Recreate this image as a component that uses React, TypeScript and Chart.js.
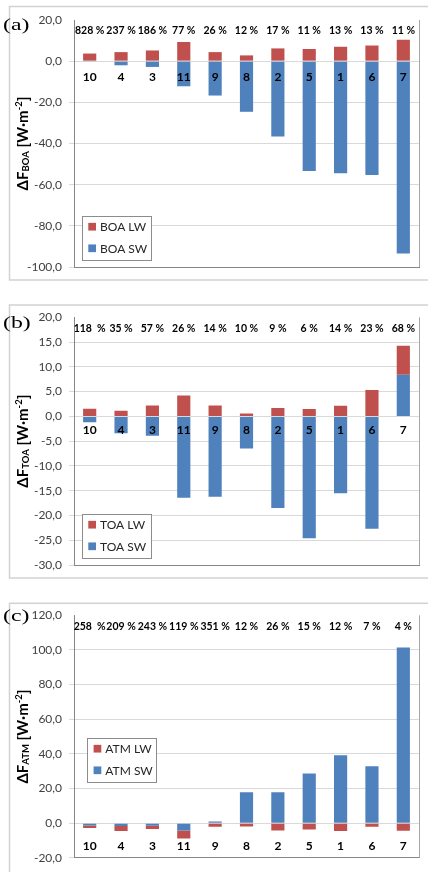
import React, { useEffect, useRef } from "react";
import { Chart, registerables } from "chart.js";
Chart.register(...registerables);

// ---------- data ----------
const categories = ["10", "4", "3", "11", "9", "8", "2", "5", "1", "6", "7"];

const boaLW = [3.7, 4.4, 5.2, 9.3, 4.4, 2.8, 6.2, 5.9, 7.0, 7.6, 10.4];
const boaSW = [-0.3, -2.0, -2.8, -12.2, -16.7, -24.6, -36.6, -53.3, -54.5, -55.3, -93.4];
const boaPct = ["828 %", "237 %", "186 %", "77 %", "26 %", "12 %", "17 %", "11 %", "13 %", "13 %", "11 %"];

const toaLW = [1.55, 1.15, 2.2, 4.2, 2.2, 0.6, 1.7, 1.5, 2.15, 5.3, 5.85];
const toaSW = [-1.2, -3.4, -3.9, -16.4, -16.2, -6.5, -18.5, -24.6, -15.5, -22.7, 8.4];
const toaPct = ["118  %", "35 %", "57 %", "26 %", "14 %", "10 %", "9 %", "6 %", "14 %", "23 %", "68 %"];

const atmLW = [-1.5, -2.8, -1.9, -4.7, -2.1, -1.9, -4.2, -3.6, -4.5, -2.1, -4.4];
const atmSW = [-1.3, -1.7, -1.5, -4.2, 1.0, 17.8, 17.8, 28.6, 39.2, 32.8, 101.4];
const atmPct = ["258  %", "209 %", "243 %", "119 %", "351 %", "12 %", "26 %", "15 %", "12 %", "7 %", "4 %"];

const boaTicks = { min: -100, max: 20, step: 20 };
const toaTicks = { min: -30, max: 20, step: 5 };
const atmTicks = { min: -20, max: 120, step: 20 };

// ---------- styles ----------
const RED = "#C0504D";
const BLUE = "#4F81BD";
const FONT = "Lato, 'Open Sans', sans-serif";

type Panel = {
  key: string;
  letter: string;
  sub: string;
  lw: number[];
  sw: number[];
  pct: string[];
  ticks: { min: number; max: number; step: number };
  top: number;
  height: number;
  padTop: number;
  padBottom: number;
  borderTop: number;
  borderBottom: number;
  catOffset: number;
  legend: { left: number; top?: number; bottom?: number };
  letterY: number;
};

const panels: Panel[] = [
  {
    key: "a", letter: "(a)", sub: "BOA", lw: boaLW, sw: boaSW, pct: boaPct, ticks: boaTicks,
    top: 0, height: 290, padTop: 20, padBottom: 23, borderTop: 6.5, borderBottom: 280,
    catOffset: 16, legend: { left: 8, bottom: 7 }, letterY: 25.5,
  },
  {
    key: "b", letter: "(b)", sub: "TOA", lw: toaLW, sw: toaSW, pct: toaPct, ticks: toaTicks,
    top: 290, height: 300, padTop: 27.3, padBottom: 25, borderTop: 15, borderBottom: 288,
    catOffset: 13.3, legend: { left: 8, bottom: 7 }, letterY: 33.5,
  },
  {
    key: "c", letter: "(c)", sub: "ATM", lw: atmLW, sw: atmSW, pct: atmPct, ticks: atmTicks,
    top: 590, height: 282, padTop: 25.3, padBottom: 9.7, borderTop: 13.3, borderBottom: 400,
    catOffset: 23, legend: { left: 13.3, top: 122.7 }, letterY: 26.5,
  },
];

const fmt = (v: number) => v.toFixed(1).replace(".", ",");

function makeOverlay(p: Panel) {
  return {
    id: "overlay" + p.key,
    beforeDraw(chart: any) {
      const ctx = chart.ctx;
      ctx.save();
      ctx.strokeStyle = "#d2d2d2";
      ctx.lineWidth = 1.5;
      ctx.strokeRect(9.5, p.borderTop, 460, p.borderBottom - p.borderTop);
      ctx.restore();
    },
    afterDraw(chart: any) {
      const ctx = chart.ctx;
      const area = chart.chartArea;
      const xs = chart.scales.x;
      const ys = chart.scales.y;
      ctx.save();
      // right frame line
      ctx.strokeStyle = "#a6a6a6";
      ctx.lineWidth = 1;
      ctx.beginPath();
      ctx.moveTo(Math.round(area.right) + 0.5, area.top);
      ctx.lineTo(Math.round(area.right) + 0.5, area.bottom);
      ctx.stroke();

      // percentage labels
      ctx.fillStyle = "#000";
      ctx.textAlign = "center";
      ctx.textBaseline = "middle";
      ctx.font = `bold 10.5px ${FONT}`;
      p.pct.forEach((t, i) => {
        ctx.fillText(t, xs.getPixelForValue(i), area.top + 11);
      });

      // category labels
      ctx.font = `bold 12px ${FONT}`;
      const zeroY = ys.getPixelForValue(0);
      categories.forEach((c, i) => {
        ctx.fillText(c, xs.getPixelForValue(i), zeroY + p.catOffset);
      });

      // legend
      const lw = 69, lh = 44;
      const lx = area.left + p.legend.left;
      const ly = p.legend.top !== undefined ? area.top + p.legend.top : area.bottom - p.legend.bottom! - lh;
      ctx.fillStyle = "#fff";
      ctx.fillRect(lx, ly, lw, lh);
      ctx.strokeStyle = "#8c8c8c";
      ctx.lineWidth = 1;
      ctx.strokeRect(Math.round(lx) + 0.5, Math.round(ly) + 0.5, lw, lh);
      const items = [...chart.data.datasets].reverse();
      ctx.textAlign = "left";
      ctx.font = `12px ${FONT}`;
      items.forEach((ds: any, k: number) => {
        const cy = ly + (k === 0 ? 10.7 : 32.3);
        ctx.fillStyle = ds.backgroundColor;
        ctx.fillRect(lx + 6.3, cy - 3.85, 7.7, 7.7);
        ctx.fillStyle = "#262626";
        ctx.fillText(ds.label, lx + 18, cy + 0.5);
      });

      // y axis title (rotated, with sub/superscript)
      const cy = (area.top + area.bottom) / 2;
      const segs = [
        { t: "ΔF", f: `bold 15px ${FONT}`, dy: 0 },
        { t: p.sub, f: `bold 9.5px ${FONT}`, dy: 1.5 },
        { t: " [W·m", f: `bold 15px ${FONT}`, dy: 0 },
        { t: "-2", f: `bold 9.5px ${FONT}`, dy: -6 },
        { t: "]", f: `bold 15px ${FONT}`, dy: 0 },
      ];
      let total = 0;
      segs.forEach((s) => { ctx.font = s.f; total += ctx.measureText(s.t).width; });
      ctx.translate(27.5, cy);
      ctx.rotate(-Math.PI / 2);
      ctx.fillStyle = "#000";
      ctx.textBaseline = "alphabetic";
      let x = -total / 2;
      segs.forEach((s) => {
        ctx.font = s.f;
        ctx.fillText(s.t, x, s.dy);
        x += ctx.measureText(s.t).width;
      });
      ctx.setTransform(1, 0, 0, 1, 0, 0);

      // panel letter
      ctx.save();
      ctx.font = `17px 'Liberation Serif', 'DejaVu Serif', serif`;
      ctx.fillStyle = "#000";
      ctx.textBaseline = "middle";
      ctx.textAlign = "left";
      ctx.translate(3, p.letterY);
      ctx.scale(1.4, 1);
      ctx.fillText(p.letter, 0, 0);
      ctx.restore();

      ctx.restore();
    },
  };
}

function PanelChart({ p }: { p: Panel }) {
  const ref = useRef<HTMLCanvasElement | null>(null);
  useEffect(() => {
    if (!ref.current) return;
    const chart = new Chart(ref.current, {
      type: "bar",
      data: {
        labels: categories,
        datasets: [
          { label: `${p.sub} SW`, data: p.sw, backgroundColor: BLUE, barPercentage: 0.42, categoryPercentage: 1 },
          { label: `${p.sub} LW`, data: p.lw, backgroundColor: RED, barPercentage: 0.42, categoryPercentage: 1 },
        ],
      },
      options: {
        responsive: false,
        animation: false,
        layout: { padding: { left: 0, right: 9, top: p.padTop, bottom: p.padBottom } },
        plugins: { legend: { display: false }, tooltip: { enabled: false } },
        scales: {
          x: {
            stacked: true,
            offset: true,
            grid: { display: false },
            ticks: { display: false },
            border: { display: true, color: "#868686", width: 1 },
            afterFit: (s: any) => { s.height = 0; },
          },
          y: {
            stacked: true,
            min: p.ticks.min,
            max: p.ticks.max,
            ticks: {
              stepSize: p.ticks.step,
              callback: (v: any) => fmt(Number(v)),
              font: { family: FONT, size: 12 },
              color: "#404040",
              padding: 7,
            },
            grid: {
              color: (c: any) => (c.tick && c.tick.value === p.ticks.max ? "rgba(0,0,0,0)" : "#d9d9d9"),
              tickLength: 5,
              lineWidth: 1,
            },
            border: { display: true, color: "#868686", width: 1 },
            afterFit: (s: any) => { s.width = 74; },
          },
        },
      },
      plugins: [makeOverlay(p)],
    } as any);
    return () => chart.destroy();
  }, [p]);
  return (
    <canvas
      ref={ref}
      width={428}
      height={p.height}
      style={{ position: "absolute", left: 0, top: p.top, width: 428, height: p.height }}
    />
  );
}

export default function App() {
  return (
    <div style={{ position: "absolute", left: 0, top: 0, width: 428, height: 872, background: "#fff", overflow: "hidden" }}>
      {panels.map((p) => (
        <PanelChart key={p.key} p={p} />
      ))}
    </div>
  );
}
